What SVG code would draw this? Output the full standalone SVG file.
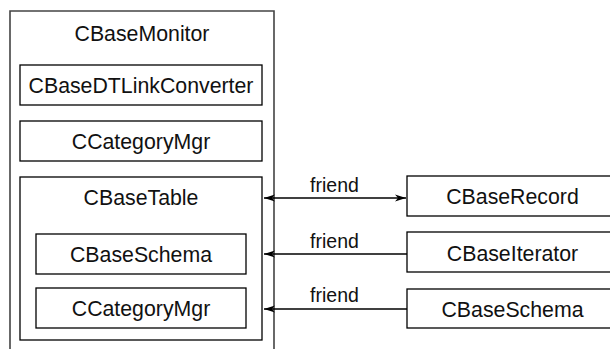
<svg xmlns="http://www.w3.org/2000/svg" width="610" height="349" viewBox="0 0 610 349">
<style>
.box{fill:#fff;stroke:#000;stroke-width:1.3}
.outer{fill:none;stroke:#444;stroke-width:1.6}
.t{font-family:"Liberation Sans",Arial,sans-serif;font-size:21.3px;fill:#111;text-anchor:middle}
.f{font-family:"Liberation Sans",Arial,sans-serif;font-size:19.5px;fill:#111;text-anchor:middle}
.c{stroke:#000;stroke-width:1.3;fill:none}
</style>
<defs>
<marker id="ah" markerWidth="12" markerHeight="8" refX="11" refY="4" orient="auto-start-reverse" markerUnits="userSpaceOnUse">
<path d="M0,0.5 L11,4 L0,7.5 L3,4 z" fill="#000"/>
</marker>
</defs>
<g id="CBaseMonitor">
<path class="outer" d="M10,360 V11 H274 V360"/>
<text class="t" x="142" y="41">CBaseMonitor</text>
</g>
<g id="CBaseDTLinkConverter">
<rect class="box" x="20" y="65" width="242" height="40"/>
<text class="t" x="141" y="92.5">CBaseDTLinkConverter</text>
</g>
<g id="CCategoryMgr1">
<rect class="box" x="20" y="121" width="242" height="40"/>
<text class="t" x="141" y="148.5">CCategoryMgr</text>
</g>
<g id="CBaseTable">
<rect class="box" x="20" y="177" width="242" height="163"/>
<text class="t" x="141" y="205">CBaseTable</text>
</g>
<g id="CBaseSchema1">
<rect class="box" x="36" y="234" width="210" height="40"/>
<text class="t" x="141" y="262">CBaseSchema</text>
</g>
<g id="CCategoryMgr2">
<rect class="box" x="36" y="288" width="210" height="40"/>
<text class="t" x="141" y="316">CCategoryMgr</text>
</g>
<g id="CBaseRecord">
<rect class="box" x="407" y="176" width="212" height="40"/>
<text class="t" x="512.5" y="204">CBaseRecord</text>
</g>
<g id="CBaseIterator">
<rect class="box" x="407" y="232" width="212" height="40"/>
<text class="t" x="512.5" y="260.5">CBaseIterator</text>
</g>
<g id="CBaseSchema2">
<rect class="box" x="407" y="289" width="212" height="39"/>
<text class="t" x="512.5" y="316.5">CBaseSchema</text>
</g>
<g id="connectors">
<line class="c" x1="264" y1="198" x2="406" y2="198" marker-start="url(#ah)" marker-end="url(#ah)"/>
<line class="c" x1="407" y1="254" x2="264" y2="254" marker-end="url(#ah)"/>
<line class="c" x1="407" y1="309" x2="264" y2="309" marker-end="url(#ah)"/>
<text class="f" x="334.5" y="191.5">friend</text>
<text class="f" x="334.5" y="247.5">friend</text>
<text class="f" x="334.5" y="302">friend</text>
</g>
</svg>
